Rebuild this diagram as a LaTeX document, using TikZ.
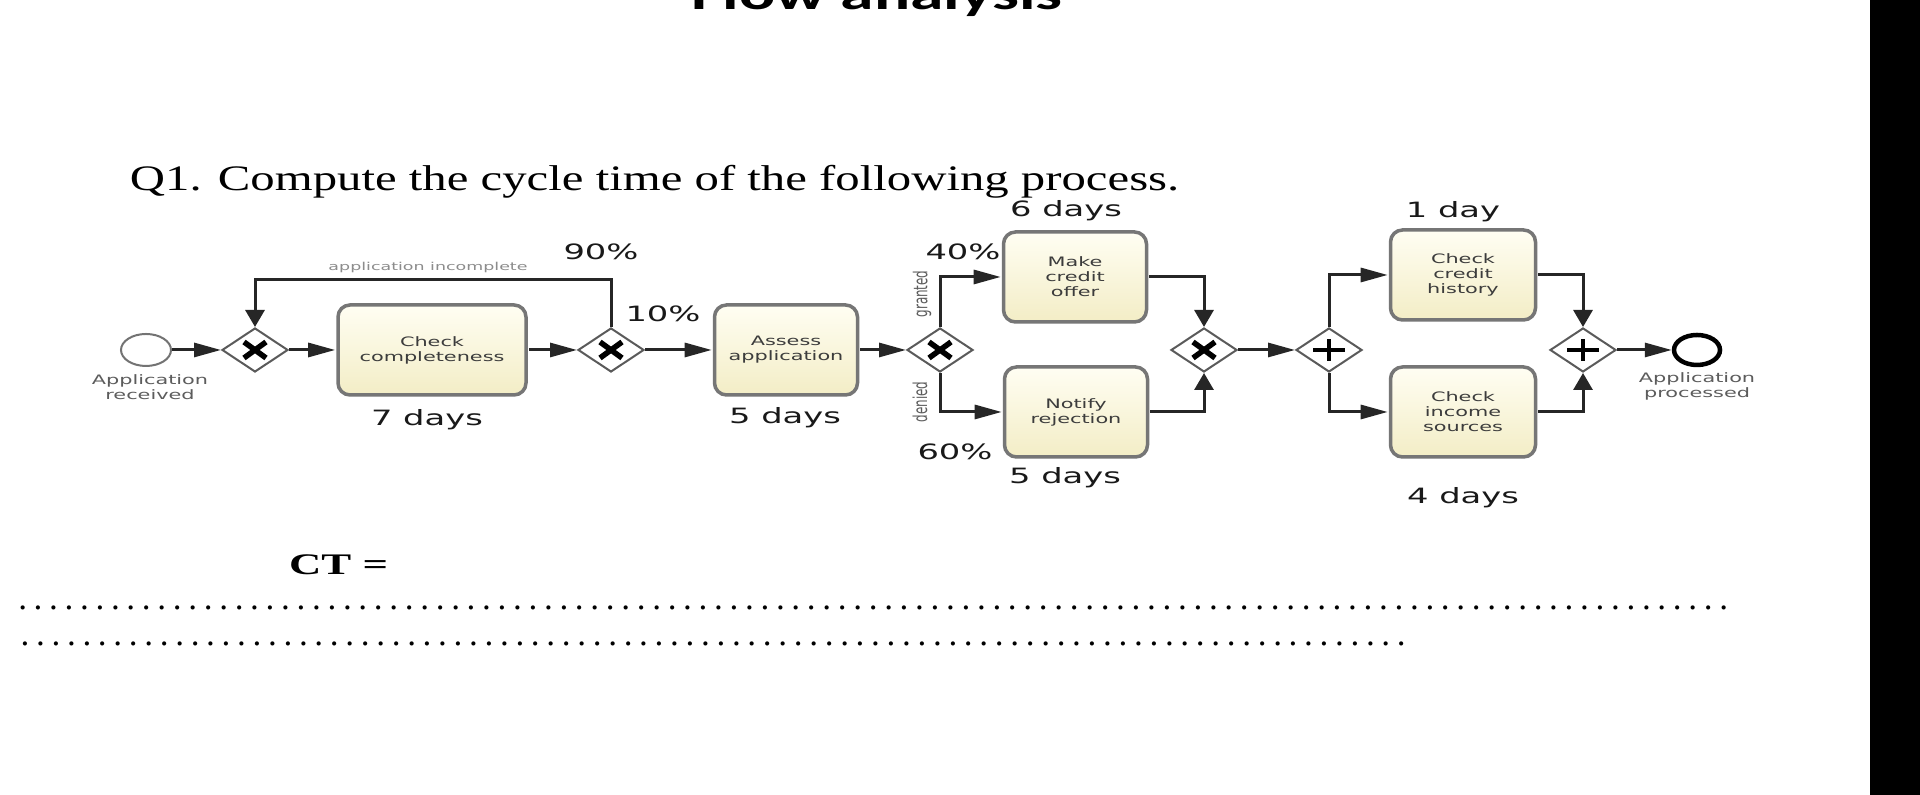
\documentclass[tikz,border=0pt]{standalone}
\usepackage{fontspec}
\usetikzlibrary{shapes.geometric,arrows.meta}
\newfontfamily\titlefont{Carlito}
\newfontfamily\sheetfont{Liberation Serif}
\newfontfamily\bpmnfont{DejaVu Sans}
\definecolor{taskline}{HTML}{767676}
\definecolor{tasktop}{HTML}{FFFEF3}
\definecolor{taskbottom}{HTML}{F3EDC6}
\definecolor{gateline}{HTML}{5A5A5A}
\definecolor{boxtext}{HTML}{3C3C3C}
\definecolor{eventtext}{HTML}{5C5C5C}
\def\wide{1.6}
\tikzset{
  flow/.style={line width=0.03cm, draw=black!85, -{Triangle[length=0.27cm,width=0.14cm]}},
  downflow/.style={line width=0.03cm, draw=black!85, -{Triangle[length=0.17cm,width=0.19cm]}},
  task/.style={draw=taskline, line width=0.035cm, rounded corners=0.12cm,
    top color=tasktop, bottom color=taskbottom, inner sep=0pt, align=center,
    minimum width=1.43cm/\wide, minimum height=0.90cm, text=boxtext,
    font=\bpmnfont\fontsize{3.7}{4.3}\selectfont, xscale=\wide, transform shape},
  gate/.style={diamond, draw=gateline, line width=0.02cm, fill=white,
    minimum width=0.66cm, minimum height=0.44cm, inner sep=0pt},
  xmark/.style={line width=0.055cm, black},
  pmark/.style={line width=0.04cm, black},
  days/.style={font=\bpmnfont\fontsize{6}{7}\selectfont, text=black!90,
    inner sep=0pt, xscale=\wide, transform shape},
  note/.style={font=\bpmnfont\fontsize{3.4}{4}\selectfont, text=eventtext,
    inner sep=0pt, align=center, xscale=\wide, transform shape}
}
\begin{document}
\begin{tikzpicture}
    \useasboundingbox (0,0) rectangle (19.2,7.95);
    \clip (0,0) rectangle (19.2,7.95);
    \fill[white] (0,0) rectangle (19.2,7.95);
    \fill[black] (18.70,0) rectangle (19.2,7.95);

    \node[anchor=base, inner sep=0pt, font=\titlefont\bfseries\fontsize{12.8}{14}\selectfont,
      xscale=1.5, transform shape] (title) at (8.77,7.85) {Flow analysis};
    \node[anchor=base west, inner sep=0pt, font=\sheetfont\fontsize{10.2}{12}\selectfont,
      xscale=1.36, transform shape] (question) at (1.29,6.04)
      {Q1. Compute the cycle time of the following process.};

    \node[ellipse, draw=black!55, line width=0.02cm, minimum width=0.50cm,
      minimum height=0.32cm, inner sep=0pt] (start) at (1.46,4.45) {};
    \node[note, font=\bpmnfont\fontsize{3.7}{4.3}\selectfont] (startlbl) at (1.50,4.08) {Application\\received};
    \node[gate] (g1) at (2.55,4.45) {};
    \node[task, minimum width=1.88cm/\wide] (t1) at (4.32,4.45) {Check\\completeness};
    \node[days] (d1) at (4.27,3.75) {7 days};
    \node[gate] (g2) at (6.11,4.45) {};
    \node[note, font=\bpmnfont\fontsize{3.1}{4}\selectfont, text=black!45] (loop) at (4.28,5.27) {application incomplete};
    \node[days] (p90) at (6.01,5.43) {90\%};
    \node[days] (p10) at (6.63,4.81) {10\%};
    \node[task] (t2) at (7.86,4.45) {Assess\\application};
    \node[days] (d2) at (7.85,3.77) {5 days};

    \node[gate] (g3) at (9.40,4.45) {};
    \node[note, rotate=90] (granted) at (9.22,5.01) {granted};
    \node[note, rotate=90] (denied) at (9.20,3.93) {denied};
    \node[days] (p40) at (9.63,5.43) {40\%};
    \node[days] (p60) at (9.55,3.43) {60\%};
    \node[task] (t3) at (10.75,5.18) {Make\\credit\\offer};
    \node[days] (d3) at (10.66,5.84) {6 days};
    \node[task] (t4) at (10.76,3.83) {Notify\\rejection};
    \node[days] (d4) at (10.65,3.17) {5 days};
    \node[gate] (g4) at (12.04,4.45) {};

    \node[gate] (g5) at (13.29,4.45) {};
    \node[task, minimum width=1.45cm/\wide] (t5) at (14.63,5.20) {Check\\credit\\history};
    \node[days] (d5) at (14.53,5.83) {1 day};
    \node[task, minimum width=1.45cm/\wide] (t6) at (14.63,3.83) {Check\\income\\sources};
    \node[days] (d6) at (14.63,2.97) {4 days};
    \node[gate] (g6) at (15.83,4.45) {};
    \node[ellipse, draw=black, line width=0.045cm, minimum width=0.46cm,
      minimum height=0.30cm, inner sep=0pt] (end) at (16.97,4.45) {};
    \node[note, font=\bpmnfont\fontsize{3.7}{4.3}\selectfont] (endlbl) at (16.97,4.09) {Application\\processed};

    \foreach \g in {g1,g2,g3,g4}
        \draw[xmark] ([shift={(-0.11,-0.08)}]\g.center) -- ([shift={(0.11,0.08)}]\g.center)
                     ([shift={(-0.11,0.08)}]\g.center) -- ([shift={(0.11,-0.08)}]\g.center);
    \foreach \g in {g5,g6}
        \draw[pmark] ([xshift=-0.16cm]\g.center) -- ([xshift=0.16cm]\g.center)
                     ([yshift=-0.11cm]\g.center) -- ([yshift=0.11cm]\g.center);

    \draw[flow] (start) -- (g1);
    \draw[flow] (g1) -- (t1);
    \draw[flow] (t1) -- (g2);
    \draw[downflow] (g2.north) -- ++(0,0.47) -| (g1.north);
    \draw[flow] (g2) -- (t2);
    \draw[flow] (t2) -- (g3);
    \draw[flow] (g3.north) |- (t3.west);
    \draw[flow] (g3.south) |- (t4.west);
    \draw[downflow] (t3.east) -| (g4.north);
    \draw[downflow] (t4.east) -| (g4.south);
    \draw[flow] (g4) -- (g5);
    \draw[flow] (g5.north) |- (t5.west);
    \draw[flow] (g5.south) |- (t6.west);
    \draw[downflow] (t5.east) -| (g6.north);
    \draw[downflow] (t6.east) -| (g6.south);
    \draw[flow] (g6) -- (end);

    \node[anchor=base west, inner sep=0pt, font=\sheetfont\bfseries\fontsize{8.5}{10}\selectfont,
      xscale=1.5, transform shape] (ct) at (2.88,2.20) {CT =};
    \node[anchor=base west, inner sep=0pt, font=\sheetfont\fontsize{10}{12}\selectfont]
      (dots1) at (0.10,1.85) {\makebox[17.25cm]{\dotfill}};
    \node[anchor=base west, inner sep=0pt, font=\sheetfont\fontsize{10}{12}\selectfont]
      (dots2) at (0.10,1.49) {\makebox[14.05cm]{\dotfill}};
\end{tikzpicture}
\end{document}
